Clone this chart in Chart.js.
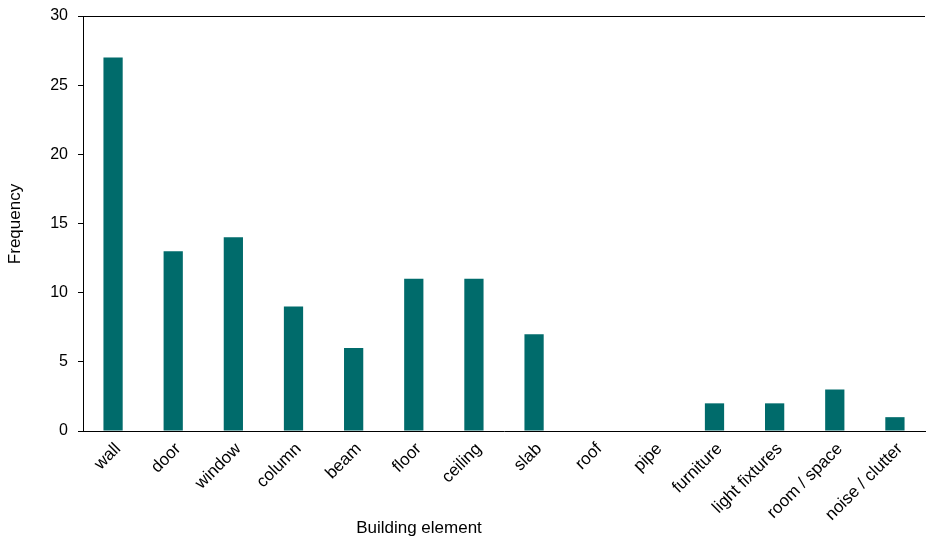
<!DOCTYPE html>
<html>
<head>
<meta charset="utf-8">
<script src="https://cdn.jsdelivr.net/npm/chart.js@4/dist/chart.umd.min.js"></script>
<style>
  html, body { margin: 0; padding: 0; background: #fff; }
  #wrap { width: 926px; height: 538px; position: relative; }
</style>
</head>
<body>
<div id="wrap"><canvas id="c"></canvas></div>
<script>
// Building elements and how often each one occurs
const categories = ['wall', 'door', 'window', 'column', 'beam', 'floor', 'ceiling', 'slab', 'roof', 'pipe', 'furniture', 'light fixtures', 'room / space', 'noise / clutter'];
const frequency = [27, 13, 14, 9, 6, 11, 11, 7, 0, 0, 2, 2, 3, 1];
const yTicks = [0, 5, 10, 15, 20, 25, 30];

const FONT = '"Liberation Sans", Arial, sans-serif';

// Axis titles and the top frame line
const frame = {
  id: 'frame',
  afterDraw(chart) {
    const { ctx, chartArea } = chart;
    ctx.save();
    ctx.strokeStyle = '#000';
    ctx.lineWidth = 1;
    ctx.beginPath();
    ctx.moveTo(chartArea.left, chartArea.top + 0.5);
    ctx.lineTo(chartArea.right, chartArea.top + 0.5);
    ctx.stroke();

    ctx.fillStyle = '#000';
    ctx.font = '17px ' + FONT;
    ctx.textAlign = 'center';
    ctx.textBaseline = 'middle';
    ctx.fillText('Building element', 419, 528);

    ctx.translate(15, 224);
    ctx.rotate(-Math.PI / 2);
    ctx.fillText('Frequency', 0, 0);
    ctx.restore();
  }
};

new Chart(document.getElementById('c'), {
  type: 'bar',
  data: {
    labels: categories,
    datasets: [{
      data: frequency,
      backgroundColor: '#006b6b',
      borderWidth: 0,
      barPercentage: 0.8,
      categoryPercentage: 0.4
    }]
  },
  options: {
    responsive: true,
    maintainAspectRatio: false,
    animation: false,
    layout: { padding: { top: 16, right: 1, left: 0, bottom: 0 } },
    plugins: { legend: { display: false }, tooltip: { enabled: false } },
    scales: {
      x: {
        grid: { display: false },
        border: { display: true, color: '#000', width: 1 },
        ticks: {
          color: '#000',
          font: { family: FONT, size: 17 },
          maxRotation: 45,
          minRotation: 45,
          padding: 0,
          labelOffset: 5,
          autoSkip: false
        },
        afterFit(s) { s.height = 107; s.paddingLeft = 0; s.paddingRight = 0; }
      },
      y: {
        min: 0,
        max: 30,
        afterBuildTicks(s) { s.ticks = yTicks.map(v => ({ value: v })); },
        grid: { drawOnChartArea: false, drawTicks: true, tickLength: 5, color: '#000' },
        border: { display: true, color: '#000', width: 1 },
        ticks: {
          color: '#000',
          font: { family: FONT, size: 16 },
          padding: 10
        },
        afterFit(s) { s.width = 83; s.paddingTop = 0; s.paddingBottom = 0; }
      }
    }
  },
  plugins: [frame]
});
</script>
</body>
</html>
